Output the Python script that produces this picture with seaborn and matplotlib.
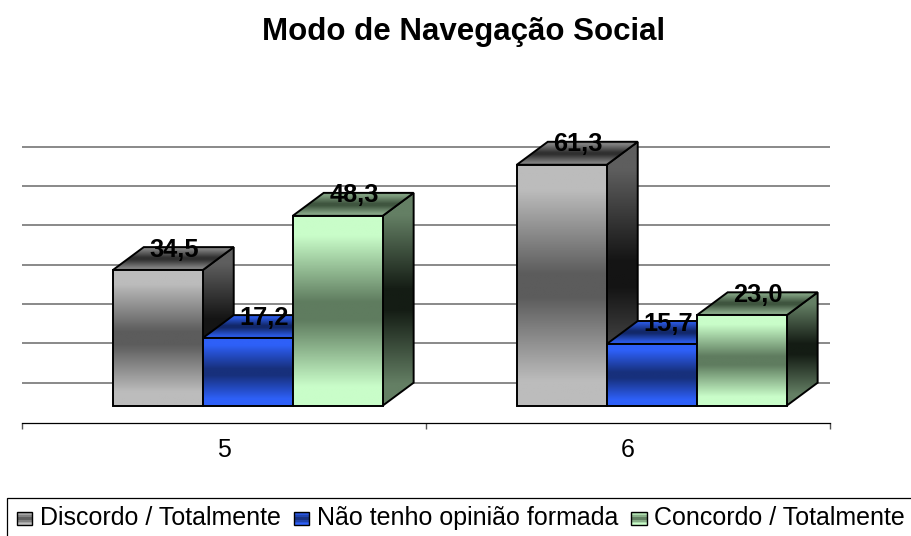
import numpy as np
import pandas as pd
import matplotlib
matplotlib.use('Agg')
import matplotlib.pyplot as plt
import seaborn as sns
from matplotlib.colors import LinearSegmentedColormap
from matplotlib.legend_handler import HandlerBase
from matplotlib.patches import Polygon, Rectangle

# --- datos ---
categorias = ['5', '6']
series = ['Discordo / Totalmente', 'Não tenho opinião formada', 'Concordo / Totalmente']
discordo = [34.5, 61.3]
sem_opiniao = [17.2, 15.7]
concordo = [48.3, 23.0]
grade = [0, 10, 20, 30, 40, 50, 60]

df = pd.DataFrame({
    'grupo': categorias * 3,
    'serie': [series[0]] * 2 + [series[1]] * 2 + [series[2]] * 2,
    'valor': discordo + sem_opiniao + concordo,
})

# --- colores de los degradados ---
frente = {
    series[0]: ['#bcbcbc', '#5c5c5c', '#bcbcbc'],
    series[1]: ['#2e60f8', '#17307c', '#2e60f8'],
    series[2]: ['#c9fdc9', '#5f7c5f', '#c9fdc9'],
}
lado = {
    series[0]: ['#5e5e5e', '#141414', '#5e5e5e'],
    series[1]: ['#17307c', '#0b1840', '#17307c'],
    series[2]: ['#647f64', '#141c14', '#647f64'],
}
topo = {
    series[0]: ['#808080', '#303030', '#808080'],
    series[1]: ['#2a58e0', '#12286a', '#2a58e0'],
    series[2]: ['#7f9f7f', '#3f553f', '#85a585'],
}

sns.set_theme(style='white')
plt.rcParams['font.family'] = ['Liberation Sans', 'DejaVu Sans']
plt.rcParams['text.color'] = 'black'

W, H = 912, 536
fig = plt.figure(figsize=(W / 100, H / 100), dpi=100)
fig.patch.set_facecolor('white')
ax = fig.add_axes([22 / W, 1 - 423 / H, 808 / W, 293 / H])
ax.set_facecolor('white')

sns.barplot(data=df, x='grupo', y='valor', hue='serie', order=categorias, hue_order=series,
            palette=[c[1] for c in frente.values()], width=0.668, gap=0, saturation=1,
            edgecolor='black', linewidth=1.4, legend=False, ax=ax)

ax.set_xlim(-0.5, 1.5)
ax.set_ylim(-4.4, 70.15)

# profundidad de las barras en unidades de los ejes
px_x = 2 / 808
px_y = (70.15 + 4.4) / 293
dx = 31 * px_x
dy = 23 * px_y
corrimiento = 23.7 * px_x


def degradado(colores):
    # tramos planos arriba, abajo y en el centro
    a, b, c = colores
    return LinearSegmentedColormap.from_list('g', [(0, a), (0.1, a), (0.45, b), (0.55, b), (0.9, c), (1, c)])


def pintar(puntos, colores, z):
    # imagen con degradado vertical recortada al poligono
    pol = Polygon(puntos, closed=True, facecolor='none', edgecolor='black', linewidth=1.4, zorder=z + 0.1)
    ax.add_patch(pol)
    xs, ys = zip(*puntos)
    img = ax.imshow(np.linspace(0, 1, 128).reshape(-1, 1), cmap=degradado(colores), aspect='auto', origin='upper',
                    extent=[min(xs), max(xs), min(ys), max(ys)], zorder=z)
    img.set_clip_path(pol)


z = 3
for serie, cont in zip(series, ax.containers):
    for barra in cont:
        x0 = barra.get_x() + corrimiento
        x1 = x0 + barra.get_width()
        alto = barra.get_height()
        barra.set_visible(False)
        pintar([(x1, 0), (x1 + dx, dy), (x1 + dx, alto + dy), (x1, alto)], lado[serie], z)
        pintar([(x0, alto), (x1, alto), (x1 + dx, alto + dy), (x0 + dx, alto + dy)], topo[serie], z + 1)
        pintar([(x0, 0), (x1, 0), (x1, alto), (x0, alto)], frente[serie], z + 2)
        ax.text((x0 + x1) / 2 + 16.5 * px_x, alto + dy, f'{alto:.1f}'.replace('.', ','), ha='center', va='center_baseline',
                fontsize=18.3, fontweight='bold', color='black', zorder=20)
    z += 3

ax.set_xlim(-0.5, 1.5)
ax.set_ylim(-4.4, 70.15)

# lineas del fondo
ax.hlines([g + dy for g in grade], -0.5, 1.5, color='#6a6a6a', linewidth=1.1, zorder=1)

ax.set_xlabel('')
ax.set_ylabel('')
ax.set_yticks([])
ax.set_xticks([-0.5, 0.5, 1.5])
ax.set_xticklabels(['', '', ''])
ax.set_xticks([0, 1], labels=categorias, minor=True)
ax.tick_params(axis='x', which='major', length=4.5, width=1.0, color='#555555', bottom=True)
ax.tick_params(axis='x', which='minor', length=0, pad=11, labelsize=18, labelcolor='black', bottom=True)
for lado_eje in ['top', 'left', 'right']:
    ax.spines[lado_eje].set_visible(False)
ax.spines['bottom'].set_color('black')
ax.spines['bottom'].set_linewidth(0.9)

fig.text(464 / W, 1 - 32 / H, 'Modo de Navegação Social', ha='center', va='center',
         fontsize=22.5, fontweight='bold', color='black')


class CuadroDegradado(HandlerBase):
    def __init__(self, colores):
        super().__init__()
        self.colores = colores

    def create_artists(self, legend, orig_handle, xdescent, ydescent, width, height, fontsize, trans):
        cmap = degradado(self.colores)
        ancho_c, alto_c = 11, 9.5
        arts = []
        n = 8
        for i in range(n):
            arts.append(Rectangle((0, i * alto_c / n), ancho_c, alto_c / n, facecolor=cmap((i + 0.5) / n),
                                  edgecolor='none', transform=trans))
        arts.append(Rectangle((0, 0), ancho_c, alto_c, facecolor='none', edgecolor='black', linewidth=1.0, transform=trans))
        return arts


# el marco de la leyenda se sale del lienzo por la derecha y por abajo
fig.add_artist(Rectangle((7.5 / W, 1 - 600 / H), 1000 / W, 102.5 / H, transform=fig.transFigure,
                         facecolor='white', edgecolor='black', linewidth=0.9))

manijas = [Rectangle((0, 0), 1, 1) for _ in series]
mapa = {m: CuadroDegradado(frente[s]) for m, s in zip(manijas, series)}
ley = fig.legend(manijas, series, handler_map=mapa, ncol=3, loc='lower left',
                 bbox_to_anchor=(17 / W, 1 - 530 / H), bbox_transform=fig.transFigure,
                 fontsize=18.0, labelcolor='black', frameon=False,
                 borderaxespad=0, borderpad=0, handlelength=0.64, handleheight=0.7, handletextpad=0.28,
                 columnspacing=0.52, labelspacing=0)

plt.savefig('out.png', dpi=100, facecolor='white')
